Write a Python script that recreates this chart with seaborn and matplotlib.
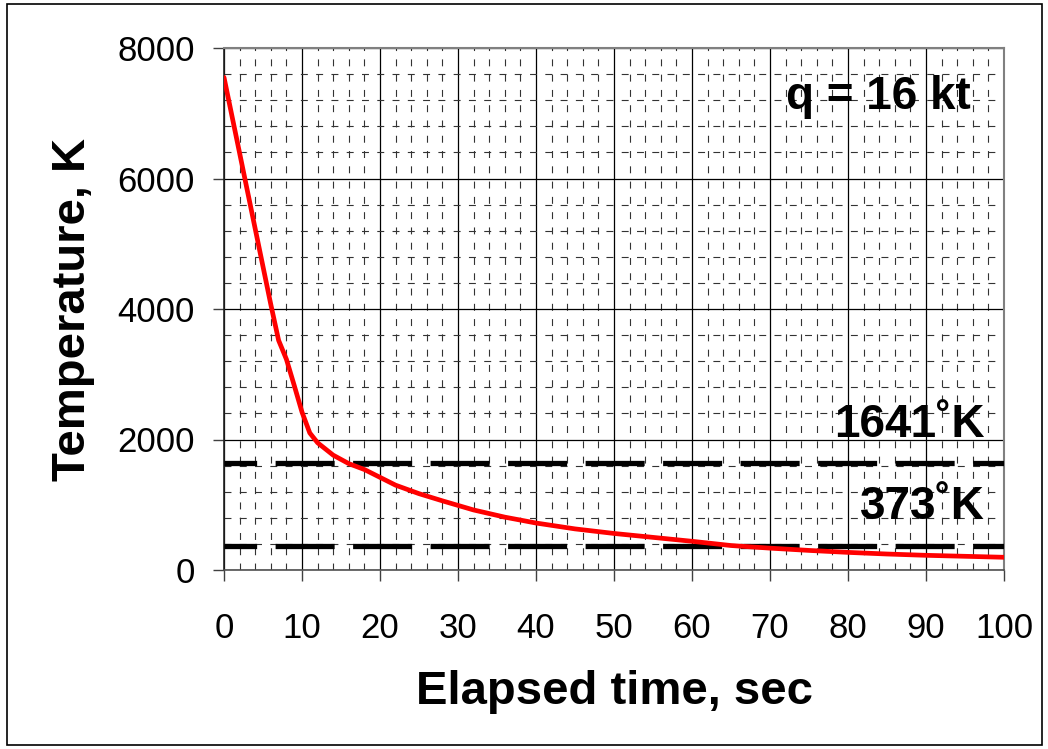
import matplotlib
matplotlib.use("Agg")
import matplotlib.pyplot as plt
import seaborn as sns
import pandas as pd
from matplotlib.ticker import MultipleLocator
from matplotlib.patches import Rectangle

time_sec = [0, 1, 2, 3, 4, 5, 6, 7, 8, 9, 10, 11, 12, 14, 16, 18, 20, 22, 25, 28,
            32, 36, 40, 45, 50, 55, 60, 65, 70, 75, 80, 85, 90, 95, 100]
temp_k = [7550, 6970, 6390, 5810, 5230, 4650, 4070, 3520, 3230, 2830, 2420, 2100,
          1950, 1760, 1630, 1540, 1420, 1300, 1170, 1060, 920, 810, 720, 630, 560,
          500, 440, 375, 335, 300, 270, 245, 225, 210, 195]
thresholds = [1641, 373]
threshold_labels = ["1641˚K", "373˚K"]
threshold_label_y = [2222, 966]
x_ticks = [0, 10, 20, 30, 40, 50, 60, 70, 80, 90, 100]
y_ticks = [0, 2000, 4000, 6000, 8000]

sns.set_style("white")
plt.rcParams['font.family'] = ['Liberation Sans', 'DejaVu Sans']
plt.rcParams['lines.scale_dashes'] = False
plt.rcParams['text.color'] = 'black'
plt.rcParams['axes.labelcolor'] = 'black'
plt.rcParams['xtick.color'] = 'black'
plt.rcParams['ytick.color'] = 'black'

fig = plt.figure(figsize=(10.48, 7.49), dpi=100)
ax = fig.add_axes([224/1048, 1-570/749, (1004-224)/1048, (570-48)/749])

df = pd.DataFrame({"t": time_sec, "T": temp_k})

ax.set_xlim(0, 100)
ax.set_ylim(0, 8000)
ax.xaxis.set_minor_locator(MultipleLocator(2))
ax.yaxis.set_minor_locator(MultipleLocator(400))
ax.set_xticks(x_ticks)
ax.set_yticks(y_ticks)
ax.grid(True, which='major', color='black', linewidth=0.9, zorder=0)
ax.grid(True, which='minor', color='#333333', linewidth=0.8,
        linestyle=(0, (5, 6)), zorder=0)
ax.set_axisbelow(True)

for yv in thresholds:
    ax.plot([0, 100], [yv, yv], color='black', linewidth=3.8,
            linestyle=(19, (42.5, 13.3)), zorder=3, solid_capstyle='butt',
            dash_capstyle='butt')

sns.lineplot(data=df, x="t", y="T", ax=ax, color='#ff0000', linewidth=3.4,
             zorder=4)

for lab, yv in zip(threshold_labels, threshold_label_y):
    ax.text(97.5, yv, lab, ha='right', va='center', fontsize=33,
            fontweight='bold', color='black', zorder=5)
ax.text(95.8, 7249, "q = 16 kt", ha='right', va='center', fontsize=33,
        fontweight='bold', color='black', zorder=5)

ax.set_xlabel("Elapsed time, sec", fontsize=34, fontweight='bold', labelpad=18,
              color='black')
ax.set_ylabel("Temperature, K", fontsize=34, fontweight='bold', labelpad=16,
              color='black')

ax.tick_params(axis='x', which='major', length=8, width=1, color='#404040',
               direction='out', labelsize=25, pad=22, bottom=True,
               labelcolor='black')
ax.tick_params(axis='y', which='major', length=8, width=1, color='#404040',
               direction='out', labelsize=25, pad=13, left=True,
               labelcolor='black')
ax.tick_params(which='minor', length=0)

for side in ['top', 'right']:
    ax.spines[side].set_color('#808080')
    ax.spines[side].set_linewidth(1.5)
ax.spines['left'].set_color('#202020')
ax.spines['left'].set_linewidth(1.2)
ax.spines['bottom'].set_color('#505050')
ax.spines['bottom'].set_linewidth(1.2)

fig.patches.append(Rectangle((7/1048, 4/749), (1042-7)/1048, (745-4)/749,
                             transform=fig.transFigure, fill=False,
                             edgecolor='black', linewidth=1.2))

fig.savefig("out.png", dpi=100, facecolor='white')
